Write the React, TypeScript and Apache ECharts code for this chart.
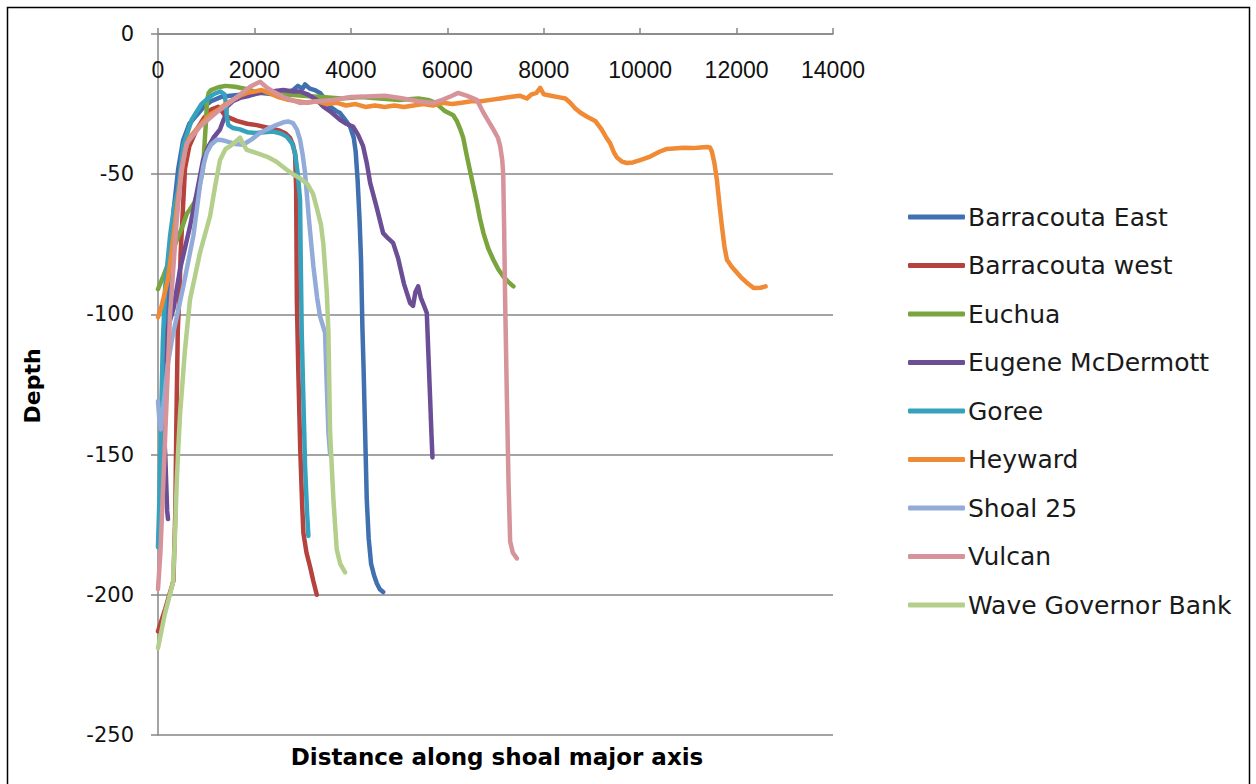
import React, { useEffect, useRef } from "react";
import * as echarts from "echarts";

const seriesNames = [
  "Barracouta East",
  "Barracouta west",
  "Euchua",
  "Eugene McDermott",
  "Goree",
  "Heyward",
  "Shoal 25",
  "Vulcan",
  "Wave Governor Bank",
];

const xTicks = { min: 0, max: 14000, interval: 2000 };
const yTicks = { min: -250, max: 0, interval: 50 };

const barracoutaEast = [
  [60, -172], [110, -140], [150, -110], [230, -85], [330, -62], [420, -48], [520, -38],
  [650, -32], [800, -29], [950, -26], [1100, -24], [1300, -22.5], [1500, -22], [1800, -21.5],
  [2100, -21], [2400, -21.5], [2650, -21], [2800, -20], [2900, -18.5], [3000, -19.5],
  [3050, -18], [3150, -19.5], [3250, -20], [3361, -21], [3450, -23], [3569, -25.9],
  [3700, -27.5], [3776, -28.2], [3900, -31], [3984, -33], [4060, -37], [4100, -42],
  [4140, -52], [4180, -66], [4210, -80], [4240, -105], [4265, -120], [4300, -145],
  [4330, -166], [4370, -180], [4420, -189], [4480, -193], [4540, -196], [4600, -198], [4670, -199],
];

const barracoutaWest = [
  [0, -213], [150, -205], [320, -195], [360, -170], [380, -140], [410, -106], [450, -90],
  [470, -78], [560, -48], [650, -40], [803, -34], [950, -30], [1100, -27], [1250, -26],
  [1300, -27], [1390, -29], [1500, -30], [1633, -31], [1850, -32], [2048, -32.5],
  [2300, -33.5], [2530, -34.5], [2650, -35.5], [2739, -37], [2800, -39.5], [2843, -43],
  [2865, -55], [2880, -95], [2910, -120], [2950, -148], [2990, -168], [3016, -178],
  [3080, -185], [3154, -190], [3220, -195], [3293, -200],
];

const euchua = [
  [0, -91], [120, -86], [250, -80], [380, -74], [500, -69], [600, -64], [664, -62.5],
  [760, -60], [850, -55], [934, -48], [970, -38], [1000, -30], [1015, -24], [1050, -21],
  [1100, -20], [1250, -19], [1400, -18.5], [1600, -18.8], [1800, -19.5], [2000, -20.5],
  [2300, -21], [2600, -21.5], [3000, -22], [3400, -22.5], [3800, -23], [4200, -22.5],
  [4600, -23], [5000, -23.5], [5400, -23], [5600, -23.5], [5750, -24.5], [5851, -26],
  [5950, -27.5], [6124, -29], [6198, -31], [6270, -34], [6330, -37], [6400, -43],
  [6474, -49], [6550, -55], [6613, -60], [6680, -66], [6750, -71], [6850, -76.5],
  [6955, -80.5], [7060, -84], [7163, -86.5], [7270, -88.5], [7373, -90],
];

const eugeneMcDermott = [
  [207, -173], [190, -170], [150, -150], [104, -136], [120, -120], [140, -110], [200, -105],
  [320, -98], [456, -84], [664, -68.6], [803, -56.7], [934, -45], [1050, -40], [1150, -37],
  [1287, -34], [1350, -31], [1400, -29], [1425, -26], [1550, -24], [1700, -22.8],
  [1900, -22], [2116, -21], [2350, -20.5], [2600, -20], [2800, -20.5], [2946, -20.5],
  [3100, -21.5], [3293, -23.5], [3430, -25.9], [3600, -28], [3776, -30.6], [3900, -32],
  [4047, -33], [4150, -36], [4254, -40], [4330, -46], [4399, -53], [4538, -62],
  [4669, -71], [4780, -73], [4876, -74.5], [4980, -80], [5100, -89], [5229, -96],
  [5290, -97], [5340, -92], [5395, -90], [5450, -94], [5520, -97], [5575, -99.5],
  [5610, -115], [5644, -130], [5670, -142], [5692, -151],
];

const goree = [
  [0, -183], [30, -165], [60, -140], [100, -110], [150, -90], [250, -72], [330, -62],
  [415, -56], [520, -40], [700, -30.6], [900, -25], [1000, -23.5], [1150, -21.5],
  [1290, -20.5], [1380, -21.5], [1410, -25], [1430, -30], [1460, -32.5], [1550, -33.5],
  [1700, -34], [1850, -35], [2048, -35.3], [2200, -35], [2386, -34.8], [2550, -35.5],
  [2670, -36.6], [2780, -39], [2843, -42.4], [2900, -50], [2946, -59], [2960, -80],
  [2981, -106.5], [3015, -130], [3050, -154], [3090, -170], [3119, -179],
];

const heyward = [
  [0, -101], [60, -98], [130, -93], [200, -88], [280, -78], [350, -68], [420, -58],
  [500, -48], [570, -41], [650, -37], [800, -34], [950, -31], [1100, -28.5], [1250, -27],
  [1400, -25], [1550, -23.5], [1700, -22], [1850, -21], [2000, -20.5], [2150, -20],
  [2300, -21], [2500, -22.5], [2700, -23.5], [2900, -24], [3100, -24.5], [3300, -24],
  [3500, -25], [3700, -24.5], [3900, -25.5], [4100, -25], [4300, -26], [4500, -25.5],
  [4700, -26], [4900, -25.5], [5100, -26], [5300, -25.5], [5500, -25], [5700, -25.5],
  [5900, -24.5], [6100, -25], [6300, -24.5], [6500, -24], [6700, -24], [6900, -23.5],
  [7100, -23], [7300, -22.5], [7500, -22], [7650, -23], [7750, -21.5], [7850, -21],
  [7927, -19.2], [8000, -21.5], [8150, -22], [8300, -22.5], [8450, -23], [8549, -24.5],
  [8650, -26.5], [8757, -28], [8900, -29.5], [9068, -31], [9200, -34], [9300, -37],
  [9379, -39], [9450, -42], [9517, -44], [9620, -45.5], [9725, -46], [9850, -45.8],
  [10000, -45], [10209, -43.7], [10400, -42], [10555, -41], [10700, -40.8], [10894, -40.6],
  [11100, -40.7], [11250, -40.5], [11385, -40.3], [11450, -40.5], [11489, -42],
  [11540, -46], [11592, -52], [11640, -60], [11696, -68.6], [11750, -76], [11800, -80.5],
  [11900, -83], [12000, -85], [12077, -86.5], [12200, -88.5], [12353, -90.6],
  [12500, -90.5], [12602, -90],
];

const shoal25 = [
  [0, -131], [30, -138], [60, -141], [100, -135], [200, -118], [300, -108], [388, -101],
  [525, -90], [733, -72], [871, -54], [940, -47], [1010, -42.4], [1100, -39.5],
  [1218, -37.7], [1320, -37.8], [1425, -38.3], [1600, -39.2], [1764, -39.5], [1950, -37.5],
  [2100, -35.5], [2255, -34], [2450, -32.5], [2600, -31.5], [2700, -31.2], [2800, -31.8],
  [2880, -34], [2946, -37.7], [3000, -43], [3050, -49.6], [3130, -66], [3223, -82.9],
  [3300, -94], [3361, -100.7], [3420, -104], [3465, -106.6], [3490, -120], [3534, -142],
  [3570, -150],
];

const vulcan = [
  [0, -198], [50, -185], [110, -160], [180, -130], [250, -100], [390, -66], [490, -48],
  [595, -39], [870, -33], [1210, -28], [1560, -23.5], [1910, -18.8], [2000, -18],
  [2116, -17], [2250, -19], [2386, -20.5], [2600, -22.5], [2946, -24.6], [3300, -24],
  [3631, -23.5], [4000, -22.5], [4330, -22.3], [4700, -22], [5021, -22.8], [5400, -24],
  [5706, -24.6], [5900, -23.5], [6100, -22], [6225, -21], [6400, -22], [6613, -23.5],
  [6747, -28], [6850, -31], [6955, -34], [7050, -37], [7097, -40], [7140, -45],
  [7160, -50], [7180, -70], [7200, -95], [7234, -128], [7270, -160], [7304, -181],
  [7360, -185], [7443, -187],
];

const waveGovernorBank = [
  [0, -219], [70, -213], [140, -207], [311, -195.6], [350, -180], [388, -160], [420, -148],
  [456, -136], [560, -112.5], [664, -94.7], [871, -78], [1079, -65], [1183, -54.4],
  [1287, -44.9], [1400, -41], [1494, -40], [1600, -38.5], [1702, -37], [1760, -39],
  [1840, -41.3], [2050, -42.5], [2255, -43.7], [2450, -45.5], [2670, -48.4], [2800, -50],
  [2946, -51.5], [3100, -53.5], [3216, -57], [3293, -62], [3380, -68], [3430, -75],
  [3500, -92], [3534, -106], [3569, -142], [3638, -166], [3707, -183.8], [3780, -189],
  [3880, -192],
];

const seriesData = [
  barracoutaEast, barracoutaWest, euchua, eugeneMcDermott, goree,
  heyward, shoal25, vulcan, waveGovernorBank,
];

const seriesColors = [
  "#4170b0", "#b6423e", "#7aa53e", "#6b4e96", "#36a2bd",
  "#f08a34", "#93abd8", "#d6939a", "#b3cf8b",
];

export default function App() {
  const ref = useRef<HTMLDivElement>(null);
  useEffect(() => {
    if (!ref.current) return;
    const chart = echarts.init(ref.current, null, { renderer: "svg" });
    const grey = "#868686";
    chart.setOption({
      animation: false,
      backgroundColor: "#ffffff",
      grid: { left: 158, right: 423, top: 34, bottom: 49, containLabel: false },
      xAxis: {
        type: "value",
        position: "top",
        min: xTicks.min,
        max: xTicks.max,
        interval: xTicks.interval,
        axisLine: { show: true, onZero: false, lineStyle: { color: grey, width: 1.5 } },
        axisTick: { show: true, inside: false, length: 6, lineStyle: { color: grey, width: 1.5 } },
        axisLabel: {
          inside: true,
          margin: 24,
          fontFamily: "Liberation Sans",
          fontSize: 23,
          color: "#111",
          formatter: (v: number) => String(v),
        },
        splitLine: { show: false },
      },
      yAxis: {
        type: "value",
        min: yTicks.min,
        max: yTicks.max,
        interval: yTicks.interval,
        axisLine: { show: true, lineStyle: { color: grey, width: 1.5 } },
        axisTick: { show: true, inside: false, length: 7, lineStyle: { color: grey, width: 1.5 } },
        axisLabel: {
          margin: 24,
          fontFamily: "DejaVu Sans",
          fontSize: 21,
          color: "#111",
          formatter: (v: number) => String(v),
        },
        splitLine: { show: true, lineStyle: { color: grey, width: 1.5 } },
      },
      legend: {
        orient: "vertical",
        left: 903,
        top: 198,
        icon: "roundRect",
        itemWidth: 57,
        itemHeight: 5,
        itemGap: 20.5,
        data: seriesNames,
        textStyle: {
          fontFamily: "DejaVu Sans",
          fontSize: 25,
          lineHeight: 28,
          color: "#1a1a1a",
          padding: [0, 0, 0, -2],
        },
      },
      graphic: [
        {
          type: "rect",
          shape: { x: 7.5, y: 7.5, width: 1242, height: 800 },
          style: { fill: "none", stroke: "#000", lineWidth: 1.5 },
          silent: true,
        },
        {
          type: "text",
          x: 32,
          y: 386,
          rotation: Math.PI / 2,
          style: {
            text: "Depth",
            fontFamily: "DejaVu Sans",
            fontWeight: "bold",
            fontSize: 22,
            fill: "#000",
            align: "center",
            verticalAlign: "middle",
          },
        },
        {
          type: "text",
          x: 497,
          y: 757,
          style: {
            text: "Distance along shoal major axis",
            fontFamily: "DejaVu Sans",
            fontWeight: "bold",
            fontSize: 23,
            fill: "#000",
            align: "center",
            verticalAlign: "middle",
          },
        },
      ],
      series: seriesNames.map((name, i) => ({
        name,
        type: "line",
        data: seriesData[i],
        showSymbol: false,
        symbol: "none",
        color: seriesColors[i],
        lineStyle: { width: 4.5, color: seriesColors[i], cap: "round", join: "round" },
        z: 2 + i,
      })),
    });
    return () => chart.dispose();
  }, []);
  return (
    <div
      ref={ref}
      style={{ position: "absolute", left: 0, top: 0, width: 1256, height: 784 }}
    />
  );
}
